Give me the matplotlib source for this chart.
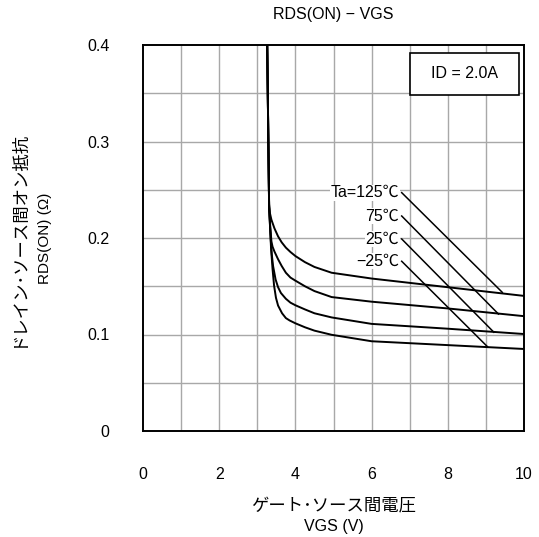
import numpy as np
import matplotlib
matplotlib.use("Agg")
import matplotlib.pyplot as plt
from matplotlib.patches import Rectangle

plt.rcParams['font.family'] = ['Liberation Sans', 'Noto Sans CJK JP', 'DejaVu Sans']

# Data
vgs_125 = [3.26, 3.31, 3.33, 3.37, 3.45, 3.545, 3.64, 3.75, 3.87, 4.0, 4.25, 4.5, 4.95, 6.0, 8.0, 10.0]
rds_125 = [0.40, 0.235, 0.226, 0.219, 0.210, 0.2017, 0.1955, 0.190, 0.1855, 0.1813, 0.175, 0.170, 0.164, 0.158, 0.149, 0.140]
vgs_75 = [3.26, 3.31, 3.34, 3.37, 3.40, 3.45, 3.545, 3.64, 3.75, 3.87, 4.0, 4.25, 4.5, 4.95, 6.0, 8.0, 10.0]
rds_75 = [0.40, 0.233, 0.212, 0.1966, 0.191, 0.186, 0.178, 0.171, 0.164, 0.159, 0.1558, 0.150, 0.145, 0.1388, 0.134, 0.127, 0.119]
vgs_25 = [3.26, 3.31, 3.35, 3.38, 3.414, 3.48, 3.545, 3.62, 3.75, 3.87, 4.0, 4.25, 4.5, 4.95, 6.0, 8.0, 10.0]
rds_25 = [0.40, 0.232, 0.200, 0.183, 0.171, 0.157, 0.149, 0.143, 0.137, 0.133, 0.1303, 0.126, 0.122, 0.1177, 0.111, 0.106, 0.1005]
vgs_m25 = [3.26, 3.31, 3.36, 3.40, 3.44, 3.49, 3.545, 3.65, 3.75, 3.85, 4.0, 4.25, 4.5, 4.95, 6.0, 8.0, 10.0]
rds_m25 = [0.40, 0.232, 0.190, 0.168, 0.1507, 0.138, 0.130, 0.122, 0.117, 0.1145, 0.1116, 0.1075, 0.104, 0.0997, 0.093, 0.089, 0.085]

labels = ["Ta=125℃", "75℃", "25℃", "−25℃"]
label_y = [0.247, 0.2228, 0.199, 0.1759]
leader_start_x = 6.79
leader_end_x = [9.43, 9.33, 9.21, 9.04]
leader_end_y = [0.1437, 0.1212, 0.1023, 0.0874]

xticks = [0, 2, 4, 6, 8, 10]
yticks = [0, 0.1, 0.2, 0.3, 0.4]
ytick_labels = ["0", "0.1", "0.2", "0.3", "0.4"]

W, H = 539, 537
fig = plt.figure(figsize=(W/100, H/100), dpi=100)
ax = fig.add_axes([143/W, 1-431/H, (524-143)/W, (431-45)/H])

ax.set_xlim(0, 10)
ax.set_ylim(0, 0.4)

# grid
for gx in np.arange(1, 10):
    ax.axvline(gx, color='#a8a8a8', lw=1.0, zorder=1)
for gy in np.arange(0.05, 0.4, 0.05):
    ax.axhline(gy, color='#a8a8a8', lw=1.0, zorder=1)

for xs, ys in [(vgs_125, rds_125), (vgs_75, rds_75), (vgs_25, rds_25), (vgs_m25, rds_m25)]:
    ax.plot(xs, ys, color='black', lw=1.4, zorder=3, solid_joinstyle='round')

for lab, ly, ex, ey in zip(labels, label_y, leader_end_x, leader_end_y):
    ax.plot([leader_start_x, ex], [ly, ey], color='black', lw=1.1, zorder=3)
    ax.text(leader_start_x - 0.07, ly, lab, ha='right', va='center', fontsize=11.5, zorder=4,
            bbox=dict(facecolor='white', edgecolor='none', pad=0.5))

ax.add_patch(Rectangle((0.7008, 0.8705), 0.2861, 0.1088, transform=ax.transAxes,
                       facecolor='white', edgecolor='black', lw=1.2, zorder=5))
ax.text(0.8438, 0.925, "ID = 2.0A", transform=ax.transAxes, ha='center', va='center',
        fontsize=11.5, zorder=6)

ax.set_xticks(xticks)
ax.set_xticklabels([str(v) for v in xticks])
ax.set_yticks(yticks)
ax.set_yticklabels(ytick_labels)
ax.tick_params(axis='both', length=0, labelsize=11.5)
ax.tick_params(axis='x', pad=26)
ax.tick_params(axis='y', pad=24)

for s in ax.spines.values():
    s.set_linewidth(1.4)
    s.set_color('black')
    s.set_zorder(7)

fig.text(333.5/W, 1-15/H, "RDS(ON) − VGS", ha='center', va='center', fontsize=11.5)
fig.text(333.5/W, 1-505/H, "ゲート･ソース間電圧", ha='center', va='center', fontsize=12.5)
fig.text(333.5/W, 1-527/H, "VGS (V)", ha='center', va='center', fontsize=11.5)
fig.text(18/W, 1-238/H, "ドレイン･ソース間オン抵抗", ha='center', va='center', fontsize=12.5, rotation=90)
fig.text(45/W, 1-238/H, "RDS(ON) (Ω)", ha='center', va='center', fontsize=11, rotation=90)

fig.savefig("out.png", dpi=100)
